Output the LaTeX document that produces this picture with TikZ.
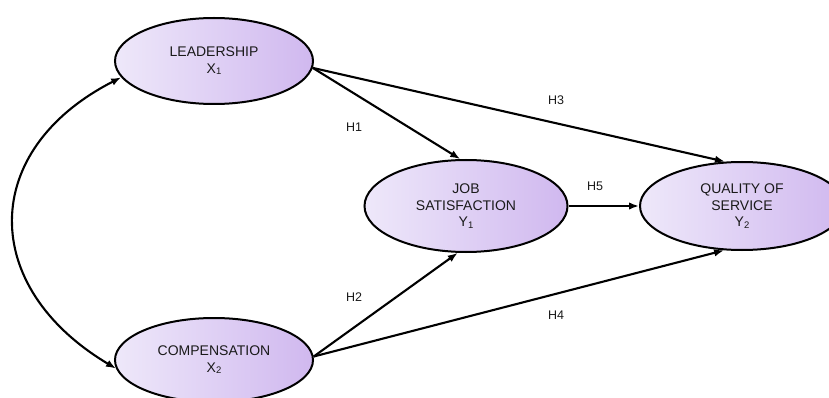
\documentclass[tikz,border=0pt]{standalone}
\usepackage{fontspec}
\setmainfont{Liberation Sans}
\usetikzlibrary{shapes.geometric,arrows.meta}
\definecolor{lavL}{HTML}{EEE8FA}
\definecolor{lavR}{HTML}{D0B8EF}
\definecolor{txt}{HTML}{1A1A1A}
\tikzset{
  latent/.style={ellipse, draw=black, line width=2pt, left color=lavL, right color=lavR,
    inner sep=0pt, align=center, text=txt,
    font=\fontsize{14}{16.5}\selectfont},
  path/.style={line width=2.1pt, -{Latex[length=10pt,width=7.5pt]}},
  hlab/.style={font=\fontsize{12.5}{14}\selectfont, text=txt, inner sep=0pt}
}
\newcommand{\sbs}[1]{{\fontsize{9.5}{10}\selectfont\raisebox{-1.5pt}{#1}}}
\begin{document}
\begin{tikzpicture}[x=1pt,y=-1pt]
\useasboundingbox (0,0) rectangle (829,398);
\clip (0,0) rectangle (829,398);
\node[latent, minimum width=198pt, minimum height=86pt] (lead) at (214,61) {LEADERSHIP\\X\sbs{1}};
\node[latent, minimum width=198pt, minimum height=84pt] (comp) at (214,360) {COMPENSATION\\X\sbs{2}};
\node[latent, minimum width=203pt, minimum height=92pt] (job) at (466,206) {JOB\\SATISFACTION\\Y\sbs{1}};
\node[latent, minimum width=204pt, minimum height=88pt] (qual) at (742,206) {QUALITY OF\\SERVICE\\Y\sbs{2}};

\draw[path] (lead.-4) -- (job.97);
\draw[path] (lead.-4) -- (qual.111);
\draw[path] (comp.2) -- (job.-100);
\draw[path] (comp.2) -- (qual.-112);
\draw[path] (job.0) -- (qual.180);
\draw[line width=2.1pt, {Latex[length=10pt,width=7.5pt]}-{Latex[length=10pt,width=7.5pt]}]
  (lead.190) .. controls (-21,150) and (-21,287) .. (comp.185);

\node[hlab] (h1) at (354,127) {H1};
\node[hlab] (h3) at (556,100) {H3};
\node[hlab] (h5) at (595,186) {H5};
\node[hlab] (h2) at (354,297) {H2};
\node[hlab] (h4) at (556,315) {H4};
\end{tikzpicture}
\end{document}
